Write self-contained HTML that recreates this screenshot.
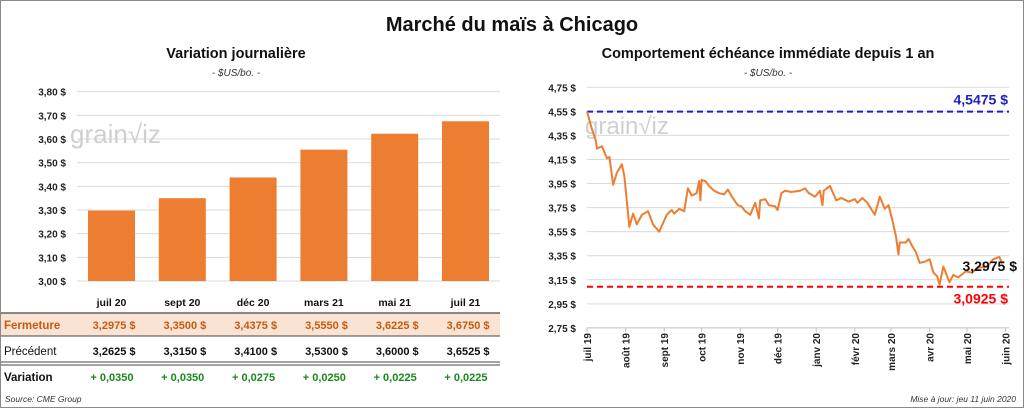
<!DOCTYPE html>
<html><head><meta charset="utf-8">
<style>
body{margin:0;background:#fff;}
svg{display:block;font-family:"Liberation Sans",sans-serif;}
</style></head>
<body>
<svg width="1024" height="408" viewBox="0 0 1024 408" xmlns="http://www.w3.org/2000/svg">
<rect x="0.5" y="0.5" width="1023" height="407" fill="#fff" stroke="#8a8a8a"/>
<text x="512" y="31" text-anchor="middle" font-size="20" font-weight="bold" fill="#111">Marché du maïs à Chicago</text>
<text x="236" y="58" text-anchor="middle" font-size="14.5" font-weight="bold" fill="#111">Variation  journalière</text>
<text x="236" y="76" text-anchor="middle" font-size="10" font-style="italic" fill="#333">- $US/bo. -</text>
<text x="768" y="58" text-anchor="middle" font-size="14.5" font-weight="bold" fill="#111">Comportement  échéance immédiate depuis 1 an</text>
<text x="768" y="76" text-anchor="middle" font-size="10" font-style="italic" fill="#333">- $US/bo. -</text>
<g id="left"></g>
<g id="table"></g>
<g id="right"></g>
<text x="5" y="402" font-size="8.5" font-style="italic" fill="#333">Source: CME Group</text>
<text x="1016" y="402" text-anchor="end" font-size="8.5" font-style="italic" fill="#333">Mise à jour: jeu 11 juin 2020</text>
</svg>
<script>
const NS="http://www.w3.org/2000/svg";
// Bar chart data
const contracts=["juil 20","sept 20","déc 20","mars 21","mai 21","juil 21"];
const closes=[3.2975,3.3500,3.4375,3.5550,3.6225,3.6750];
const previous=[3.2625,3.3150,3.4100,3.5300,3.6000,3.6525];
const changes=[0.0350,0.0350,0.0275,0.0250,0.0225,0.0225];
const leftTicks=[3.00,3.10,3.20,3.30,3.40,3.50,3.60,3.70,3.80];
// Line chart data: days since 1 juil 2019, price
const days=[0,4,7,8,12,16,18,21,24,28,30,34,37,40,44,49,53,58,61,64,68,70,74,78,81,84,88,90,91,92,95,98,102,106,110,113,117,121,124,127,131,135,138,139,143,146,151,153,156,159,164,171,175,178,183,187,189,190,195,198,200,204,210,215,217,221,225,231,235,239,242,245,248,250,251,256,258,261,264,267,271,275,278,281,283,286,289,291,294,298,304,309,314,321,326,331,333,335];
const prices=[4.55,4.40,4.31,4.24,4.26,4.16,4.17,3.94,4.04,4.11,4.01,3.59,3.70,3.61,3.69,3.72,3.61,3.55,3.62,3.69,3.73,3.70,3.74,3.72,3.91,3.85,3.87,3.97,3.81,3.98,3.97,3.93,3.89,3.87,3.86,3.90,3.83,3.77,3.76,3.72,3.69,3.79,3.66,3.81,3.82,3.77,3.76,3.73,3.87,3.89,3.88,3.89,3.91,3.87,3.84,3.89,3.77,3.89,3.93,3.86,3.81,3.83,3.80,3.82,3.79,3.83,3.79,3.69,3.84,3.74,3.77,3.65,3.51,3.36,3.46,3.46,3.49,3.43,3.38,3.29,3.30,3.32,3.21,3.18,3.11,3.26,3.18,3.13,3.19,3.17,3.22,3.21,3.25,3.26,3.32,3.34,3.29,3.2975];
const rightTicks=[2.75,2.95,3.15,3.35,3.55,3.75,3.95,4.15,4.35,4.55,4.75];
const monthLabels=["juil 19","août 19","sept 19","oct 19","nov 19","déc 19","janv 20","févr 20","mars 20","avr 20","mai 20","juin 20"];
const monthDays=[0,31,62,92,123,153,184,215,244,275,305,336];
const highValue=4.5475, lowValue=3.0925, lastValue=3.2975;

function fmt(v,d){return v.toFixed(d).replace('.',',');}
function el(tag,attrs,parent,text){const e=document.createElementNS(NS,tag);for(const k in attrs)e.setAttribute(k,attrs[k]);if(text!=null)e.textContent=text;parent.appendChild(e);return e;}

// left chart
const L=document.getElementById('left');
const ly=v=>281-(v-3.0)/0.8*189.3;
const lx=i=>111.5+i*70.8;
leftTicks.forEach(t=>{
  const g=el('line',{x1:77,x2:500,y1:ly(t),y2:ly(t),stroke:'#d9d9d9','stroke-width':1},L);
  
  const tx=el('text',{x:66,y:ly(t)+4,'text-anchor':'end','font-size':10,'font-weight':'bold',fill:'#222'},L,fmt(t,2)+' $');
  
});
const wm=el('text',{x:70,y:143,'font-size':26,fill:'#cfcfcf'},L,'grain\u221Aiz');

closes.forEach((v,i)=>{
  const r=el('rect',{x:lx(i)-23.5,y:ly(v),width:47,height:ly(3.0)-ly(v),fill:'#ed7d31'},L);
  
});

// table
const T=document.getElementById('table');
const bg=el('rect',{x:1,y:313,width:499,height:23,fill:'#fbe3d3'},T);

[[313,'#444',1.2],[336,'#444',1],[362,'#444',1],[365,'#444',1]].forEach(a=>{
  const l=el('line',{x1:1,x2:500,y1:a[0],y2:a[0],stroke:a[1],'stroke-width':a[2]},T);
  
});
contracts.forEach((c,i)=>{
  const h=el('text',{x:lx(i),y:306,'text-anchor':'middle','font-size':10.5,'font-weight':'bold',fill:'#111'},T,c);
  
  const a=el('text',{x:lx(i)+24,y:329,'text-anchor':'end','font-size':11,'font-weight':'bold',fill:'#c55a11'},T,fmt(closes[i],4)+'  $');
  
  const b=el('text',{x:lx(i)+24,y:355,'text-anchor':'end','font-size':11,'font-weight':'bold',fill:'#111'},T,fmt(previous[i],4)+'  $');
  
  const d=el('text',{x:lx(i)+22,y:381,'text-anchor':'end','font-size':11,'font-weight':'bold',fill:'#1a8a1a'},T,'+ '+fmt(changes[i],4));
  
});
[['Fermeture',329,'#c55a11','bold'],['Précédent',355,'#111','normal'],['Variation',381,'#111','bold']].forEach(r=>{
  const t=el('text',{x:4,y:r[1],'font-size':11.5,'font-weight':r[3],fill:r[2]},T,r[0]);
  
});

// right chart
const R=document.getElementById('right');
const ry=v=>87.3-(v-4.75)/2.0*240.6;
const rx=d=>587+d*1.2459;
rightTicks.forEach(t=>{
  if(t>2.75){const g=el('line',{x1:587,x2:1009,y1:ry(t),y2:ry(t),stroke:'#d9d9d9','stroke-width':1},R);
  }
  const tx=el('text',{x:576,y:ry(t)+4,'text-anchor':'end','font-size':10,'font-weight':'bold',fill:'#222'},R,fmt(t,2)+' $');
  
});
const ax=el('line',{x1:587,x2:1009,y1:ry(2.75),y2:ry(2.75),stroke:'#bfbfbf','stroke-width':1},R);

monthDays.forEach((d,i)=>{
  const tk=el('line',{x1:rx(d),x2:rx(d),y1:ry(2.75),y2:ry(2.75)+4,stroke:'#bfbfbf'},R);
  
  const x=rx(d)+4,y=333;
  const t=el('text',{x:x,y:y,transform:`rotate(-90 ${x} ${y})`,'text-anchor':'end','font-size':10,'font-weight':'bold',fill:'#222'},R,monthLabels[i]);
  
});
const wm2=el('text',{x:585,y:134,'font-size':24,fill:'#cfcfcf'},R,'grain\u221Aiz');

const hi=el('line',{x1:587,x2:1009,y1:ry(highValue),y2:ry(highValue),stroke:'#1f1fbf','stroke-width':2,'stroke-dasharray':'6 4'},R);

const lo=el('line',{x1:587,x2:1009,y1:ry(lowValue),y2:ry(lowValue),stroke:'#ff0000','stroke-width':2,'stroke-dasharray':'6 4'},R);

const p=el('polyline',{points:days.map((d,i)=>rx(d)+','+ry(prices[i])).join(' '),fill:'none',stroke:'#ed7d31','stroke-width':2,'stroke-linejoin':'round'},R);

const hl=el('text',{x:1008,y:ry(highValue)-7,'text-anchor':'end','font-size':14,'font-weight':'bold',fill:'#1f1fbf'},R,fmt(highValue,4)+' $');

const ll=el('text',{x:1008,y:ry(lowValue)+17,'text-anchor':'end','font-size':14,'font-weight':'bold',fill:'#ff0000'},R,fmt(lowValue,4)+' $');

const cl=el('text',{x:1017,y:ry(lastValue)+9,'text-anchor':'end','font-size':14,'font-weight':'bold',fill:'#111'},R,fmt(lastValue,4)+' $');

</script>
</body></html>
